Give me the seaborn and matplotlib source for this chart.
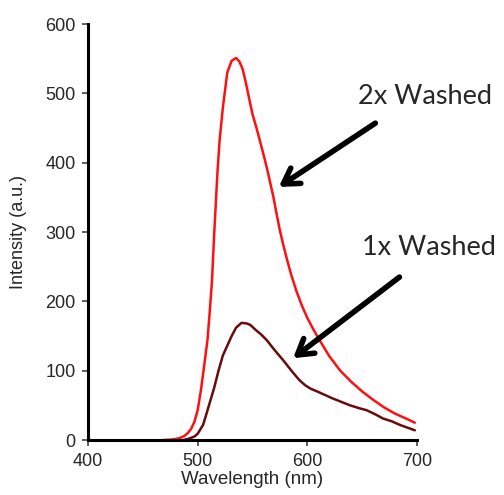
import numpy as np
import pandas as pd
import matplotlib
matplotlib.use("Agg")
import matplotlib.pyplot as plt
import seaborn as sns

# 2x Washed (bright red)
wl_2x = [468, 475, 480, 484, 488, 491, 494, 497, 500, 503, 506, 509, 511, 513,
         515, 518, 520, 523, 527, 531, 535, 538, 541, 544, 547, 550, 554, 557,
         560, 563, 566, 569, 572, 575, 578, 581, 585, 590, 595, 600, 605, 610,
         620, 630, 640, 650, 660, 670, 680, 690, 698]
int_2x = [0, 0.5, 1.5, 3, 6, 10, 16, 26, 43, 72, 108, 145, 185, 228,
          295, 385, 432, 480, 530, 547, 551, 546, 535, 515, 492, 470, 448, 430,
          412, 393, 372, 351, 326, 302, 282, 263, 240, 215, 194, 176, 161, 147,
          121, 100, 84, 70, 58, 47, 38, 31, 25]

# 1x Washed (dark red)
wl_1x = [487, 492, 497, 500, 505, 509, 515, 519, 523, 527, 531, 535, 540, 545,
         548, 552, 558, 563, 570, 578, 587, 593, 598, 603, 609, 616, 623, 631,
         639, 647, 654, 662, 669, 677, 684, 691, 698]
int_1x = [0, 2, 5, 9, 22, 43, 75, 100, 122, 136, 150, 162, 169, 168,
          166, 160, 152, 144, 130, 115, 97, 86, 79, 74, 70, 65, 60, 55,
          50, 46, 43, 37, 31, 27, 22, 18, 14]

x_ticks = [400, 500, 600, 700]
y_ticks = [0, 100, 200, 300, 400, 500, 600]

sns.set_theme(style="ticks")
plt.rcParams["font.family"] = ["Liberation Sans", "DejaVu Sans"]

fig = plt.figure(figsize=(5.04, 4.95), dpi=100)
ax = fig.add_axes([0.1746, 0.1111, 0.6528, 0.8404])

df2 = pd.DataFrame({"wl": wl_2x, "val": int_2x})
df1 = pd.DataFrame({"wl": wl_1x, "val": int_1x})
sns.lineplot(data=df2, x="wl", y="val", color="#ff1010", lw=1.8, ax=ax)
sns.lineplot(data=df1, x="wl", y="val", color="#6a0b0b", lw=1.8, ax=ax)

ax.set_xlim(400, 700)
ax.set_ylim(0, 600)
ax.set_xticks(x_ticks)
ax.set_yticks(y_ticks)
ax.tick_params(axis="both", labelsize=13, length=4, width=1.2, color="#444444", pad=5)
ax.set_xlabel("Wavelength (nm)", fontsize=13.5, labelpad=1)
ax.set_ylabel("Intensity (a.u.)", fontsize=13, labelpad=13)
sns.despine(ax=ax)
for s in ["left", "bottom"]:
    ax.spines[s].set_linewidth(2.2)
    ax.spines[s].set_color("black")

# annotations with arrows
ann_font = ["Lato", "DejaVu Sans"]
ax.annotate("", xy=(574, 365), xytext=(662, 457),
            arrowprops=dict(arrowstyle="->,head_length=0.9,head_width=0.55",
                            lw=4, color="black", shrinkA=0, shrinkB=0),
            annotation_clip=False)
ax.text(707, 495, "2x Washed", ha="center", va="center", fontsize=19.5,
        family=ann_font, clip_on=False)
ax.annotate("", xy=(587, 118), xytext=(684, 235),
            arrowprops=dict(arrowstyle="->,head_length=0.9,head_width=0.55",
                            lw=4, color="black", shrinkA=0, shrinkB=0),
            annotation_clip=False)
ax.text(711, 278, "1x Washed", ha="center", va="center", fontsize=19.5,
        family=ann_font, clip_on=False)

fig.savefig("out.png", dpi=100)
